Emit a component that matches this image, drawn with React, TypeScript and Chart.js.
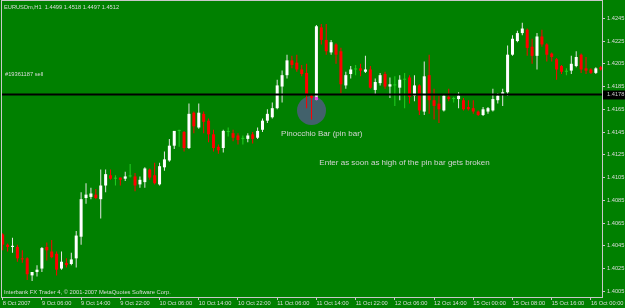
import React, { useEffect, useRef } from "react";
import { Chart, registerables } from "chart.js";

Chart.register(...registerables);

// EURUSDm H1 candles, one per hour, starting 8 Oct 2007 (bar index = position)
const OPEN = [
  1.4055, 1.4046, 1.4044, 1.4044, 1.4034, 1.4034, 1.4019, 1.4022, 1.4025, 1.4044,
  1.4040, 1.4038, 1.4025, 1.4030, 1.4029, 1.4034, 1.4053, 1.4087, 1.4088, 1.4090,
  1.4086, 1.4098, 1.4107, 1.4104, 1.4105, 1.4104, 1.4106, 1.4106, 1.4099, 1.4101,
  1.4112, 1.4107, 1.4099, 1.4114, 1.4120, 1.4133, 1.4146, 1.4145, 1.4131, 1.4162,
  1.4149, 1.4161, 1.4155, 1.4143, 1.4132, 1.4131, 1.4145, 1.4144, 1.4142, 1.4139,
  1.4139, 1.4143, 1.4140, 1.4147, 1.4155, 1.4158, 1.4166, 1.4185, 1.4195, 1.4208,
  1.4206, 1.4200, 1.4197, 1.4177, 1.4176, 1.4237, 1.4226, 1.4215, 1.4222, 1.4216,
  1.4186, 1.4196, 1.4200, 1.4201, 1.4198, 1.4200, 1.4182, 1.4188, 1.4196, 1.4185,
  1.4186, 1.4184, 1.4191, 1.4193, 1.4177, 1.4186, 1.4163, 1.4195, 1.4173, 1.4170,
  1.4164, 1.4176, 1.4174, 1.4174, 1.4173, 1.4167, 1.4166, 1.4163, 1.4160, 1.4163,
  1.4164, 1.4173, 1.4178, 1.4180, 1.4213, 1.4225, 1.4232, 1.4235, 1.4220, 1.4212,
  1.4229, 1.4222, 1.4214, 1.4209, 1.4203, 1.4198, 1.4199, 1.4203, 1.4213, 1.4201,
  1.4200, 1.4197, 1.4202,
];
const HIGH = [
  1.4056, 1.4047, 1.4052, 1.4046, 1.4041, 1.4035, 1.4022, 1.4028, 1.4044, 1.4048,
  1.4050, 1.4040, 1.4040, 1.4034, 1.4039, 1.4058, 1.4092, 1.4100, 1.4096, 1.4095,
  1.4112, 1.4112, 1.4112, 1.4107, 1.4105, 1.4110, 1.4117, 1.4109, 1.4106, 1.4114,
  1.4113, 1.4118, 1.4118, 1.4128, 1.4139, 1.4146, 1.4147, 1.4146, 1.4170, 1.4163,
  1.4170, 1.4163, 1.4157, 1.4147, 1.4134, 1.4147, 1.4149, 1.4147, 1.4144, 1.4142,
  1.4144, 1.4145, 1.4149, 1.4157, 1.4165, 1.4171, 1.4191, 1.4199, 1.4213, 1.4212,
  1.4213, 1.4204, 1.4205, 1.4178, 1.4239, 1.4240, 1.4240, 1.4226, 1.4223, 1.4219,
  1.4198, 1.4203, 1.4204, 1.4205, 1.4212, 1.4203, 1.4192, 1.4197, 1.4198, 1.4193,
  1.4194, 1.4195, 1.4197, 1.4195, 1.4195, 1.4187, 1.4207, 1.4213, 1.4183, 1.4177,
  1.4178, 1.4183, 1.4176, 1.4180, 1.4175, 1.4173, 1.4173, 1.4164, 1.4167, 1.4167,
  1.4183, 1.4179, 1.4183, 1.4221, 1.4230, 1.4234, 1.4241, 1.4236, 1.4227, 1.4232,
  1.4235, 1.4223, 1.4215, 1.4210, 1.4204, 1.4201, 1.4212, 1.4216, 1.4214, 1.4211,
  1.4201, 1.4202, 1.4203,
];
const LOW = [
  1.4041, 1.4040, 1.4039, 1.4031, 1.4030, 1.4015, 1.4014, 1.4018, 1.4022, 1.4032,
  1.4034, 1.4019, 1.4024, 1.4026, 1.4028, 1.4026, 1.4046, 1.4082, 1.4086, 1.4086,
  1.4069, 1.4092, 1.4103, 1.4098, 1.4098, 1.4102, 1.4105, 1.4093, 1.4096, 1.4096,
  1.4103, 1.4099, 1.4098, 1.4111, 1.4119, 1.4130, 1.4132, 1.4128, 1.4130, 1.4144,
  1.4148, 1.4144, 1.4136, 1.4128, 1.4126, 1.4127, 1.4141, 1.4137, 1.4134, 1.4134,
  1.4136, 1.4135, 1.4139, 1.4145, 1.4153, 1.4157, 1.4165, 1.4171, 1.4192, 1.4201,
  1.4198, 1.4194, 1.4166, 1.4156, 1.4173, 1.4222, 1.4213, 1.4213, 1.4205, 1.4179,
  1.4183, 1.4192, 1.4195, 1.4194, 1.4197, 1.4183, 1.4178, 1.4186, 1.4183, 1.4175,
  1.4168, 1.4173, 1.4166, 1.4170, 1.4172, 1.4160, 1.4160, 1.4161, 1.4156, 1.4153,
  1.4163, 1.4172, 1.4171, 1.4166, 1.4164, 1.4164, 1.4161, 1.4159, 1.4159, 1.4161,
  1.4163, 1.4170, 1.4168, 1.4177, 1.4212, 1.4224, 1.4230, 1.4212, 1.4205, 1.4200,
  1.4220, 1.4207, 1.4207, 1.4191, 1.4196, 1.4195, 1.4196, 1.4202, 1.4197, 1.4196,
  1.4196, 1.4196, 1.4199,
];
const CLOSE = [
  1.4046, 1.4044, 1.4045, 1.4034, 1.4033, 1.4020, 1.4022, 1.4024, 1.4043, 1.4041,
  1.4035, 1.4024, 1.4031, 1.4028, 1.4033, 1.4054, 1.4086, 1.4090, 1.4091, 1.4087,
  1.4098, 1.4108, 1.4104, 1.4104, 1.4103, 1.4106, 1.4106, 1.4098, 1.4103, 1.4113,
  1.4105, 1.4100, 1.4115, 1.4121, 1.4133, 1.4146, 1.4146, 1.4131, 1.4161, 1.4150,
  1.4162, 1.4154, 1.4143, 1.4131, 1.4129, 1.4146, 1.4145, 1.4140, 1.4138, 1.4139,
  1.4142, 1.4139, 1.4146, 1.4155, 1.4161, 1.4166, 1.4186, 1.4195, 1.4208, 1.4204,
  1.4200, 1.4196, 1.4178, 1.4175, 1.4238, 1.4226, 1.4216, 1.4224, 1.4213, 1.4187,
  1.4195, 1.4200, 1.4200, 1.4199, 1.4200, 1.4184, 1.4189, 1.4195, 1.4185, 1.4187,
  1.4186, 1.4191, 1.4191, 1.4176, 1.4186, 1.4164, 1.4194, 1.4173, 1.4168, 1.4165,
  1.4177, 1.4174, 1.4174, 1.4177, 1.4165, 1.4165, 1.4163, 1.4160, 1.4165, 1.4166,
  1.4174, 1.4177, 1.4180, 1.4213, 1.4227, 1.4232, 1.4236, 1.4219, 1.4212, 1.4229,
  1.4222, 1.4213, 1.4211, 1.4200, 1.4198, 1.4198, 1.4205, 1.4211, 1.4200, 1.4199,
  1.4197, 1.4201, 1.4200,
];

// time labels shown every 8 bars
const TIME_LABELS = [
  "8 Oct 2007", "9 Oct 06:00", "9 Oct 14:00", "9 Oct 22:00", "10 Oct 06:00",
  "10 Oct 14:00", "10 Oct 22:00", "11 Oct 06:00", "11 Oct 14:00", "11 Oct 22:00",
  "12 Oct 06:00", "12 Oct 14:00", "15 Oct 00:00", "15 Oct 08:00", "15 Oct 16:00",
  "16 Oct 00:00",
];
const BARS_PER_LABEL = 8;
const PRICE_TICKS = [
  1.4005, 1.4025, 1.4045, 1.4065, 1.4085, 1.4105, 1.4125, 1.4145, 1.4165,
  1.4185, 1.4205, 1.4225, 1.4245,
];
const ENTRY_LEVEL = 1.4178;
const PIN_BAR = 63;
const PIN_CIRCLE_PRICE = 1.4164;
const ORDER_MARK_BAR = 64;
const ORDER_MARK_PRICE = 1.41745;
const ORDER_PRICE = 1.4196;

const HEADER_TEXT = "EURUSDm,H1  1.4499 1.4518 1.4497 1.4512";
const ORDER_TEXT = "#19361187 sell";
const COPYRIGHT_TEXT = "Interbank FX Trader 4, \u00a9 2001-2007 MetaQuotes Software Corp.";
const NOTE_PIN = "Pinocchio Bar (pin bar)";
const NOTE_PIN_AT = { bar: 56.8, price: 1.41439 };
const NOTE_ENTRY = "Enter as soon as high of the pin bar gets broken";
const NOTE_ENTRY_AT = { bar: 64.6, price: 1.41181 };

const BG = "#008000";
const FRAME = "#c8c8c8";
const TEXT = "#dcdcdc";
const BULL = "#ffffff";
const BEAR = "#ff0000";
const DOJI = "#22d022";
const BULL_WICK = "#e4e4e4";
const FONT = "'Liberation Sans', Arial, sans-serif";

function candleColor(i: number, bull: string, bear: string, doji: string) {
  const o = OPEN[i];
  const c = CLOSE[i];
  return c > o ? bull : c < o ? bear : doji;
}

export default function App() {
  const ref = useRef<HTMLCanvasElement | null>(null);

  useEffect(() => {
    if (!ref.current) return;
    const idx = OPEN.map((_, i) => i);

    const decor = {
      id: "mt4decor",
      beforeDraw(chart: any) {
        const { ctx, width, height } = chart;
        ctx.save();
        ctx.fillStyle = BG;
        ctx.fillRect(0, 0, width, height);
        ctx.restore();
      },
      afterDraw(chart: any) {
        const { ctx, chartArea: a, scales } = chart;
        const xs = scales.x;
        const ys = scales.y;
        ctx.save();
        // frame
        ctx.strokeStyle = FRAME;
        ctx.lineWidth = 1;
        ctx.strokeRect(a.left - 0.5, a.top - 0.5, a.right - a.left + 1, a.bottom - a.top + 1);
        // small texts
        ctx.fillStyle = TEXT;
        ctx.textBaseline = "middle";
        ctx.textAlign = "left";
        ctx.font = `5.7px ${FONT}`;
        ctx.fillText(HEADER_TEXT, a.left + 2, a.top + 6);
        ctx.fillText(ORDER_TEXT, a.left + 3, ys.getPixelForValue(ORDER_PRICE));
        ctx.font = `5.8px ${FONT}`;
        ctx.fillText(COPYRIGHT_TEXT, a.left + 2, a.bottom - 4.5);
        // notes
        ctx.font = `8px ${FONT}`;
        ctx.fillStyle = "#d4d4d4";
        ctx.fillText(NOTE_PIN, xs.getPixelForValue(NOTE_PIN_AT.bar), ys.getPixelForValue(NOTE_PIN_AT.price));
        ctx.fillText(NOTE_ENTRY, xs.getPixelForValue(NOTE_ENTRY_AT.bar), ys.getPixelForValue(NOTE_ENTRY_AT.price));
        // price box on the axis
        const py = ys.getPixelForValue(ENTRY_LEVEL);
        ctx.fillStyle = "#000000";
        ctx.fillRect(a.right + 1, Math.round(py) - 4.5, 24, 9);
        ctx.fillStyle = "#c8c8c8";
        ctx.font = `5.7px ${FONT}`;
        ctx.fillText(ENTRY_LEVEL.toFixed(4), a.right + 5, py);
        ctx.restore();
      },
    };

    const chart = new Chart(ref.current, {
      type: "bar",
      data: {
        datasets: [
          {
            type: "scatter",
            data: [{ x: PIN_BAR, y: PIN_CIRCLE_PRICE }],
            pointRadius: 14.5,
            pointHoverRadius: 14.5,
            backgroundColor: "#42616b",
            borderWidth: 0,
            clip: 0,
            order: 6,
          } as any,
          {
            type: "bar",
            data: idx.map((i) => ({ x: i, y: [LOW[i], HIGH[i]] })),
            backgroundColor: idx.map((i) => candleColor(i, BULL_WICK, BEAR, DOJI)),
            borderWidth: 0,
            grouped: false,
            maxBarThickness: 1,
            inflateAmount: 0,
            clip: 0,
            order: 4,
          } as any,
          {
            type: "bar",
            data: idx.map((i) => ({ x: i, y: [OPEN[i], CLOSE[i]] })),
            backgroundColor: idx.map((i) => candleColor(i, BULL, BEAR, DOJI)),
            borderWidth: 0,
            grouped: false,
            maxBarThickness: 3,
            minBarLength: 1,
            inflateAmount: 0,
            clip: 0,
            order: 3,
          } as any,
          {
            type: "line",
            data: [
              { x: -1, y: ENTRY_LEVEL },
              { x: OPEN.length + 1, y: ENTRY_LEVEL },
            ],
            borderColor: "#000000",
            borderWidth: 2,
            pointRadius: 0,
            clip: 0,
            order: 1,
          } as any,
          {
            type: "scatter",
            data: [{ x: ORDER_MARK_BAR, y: ORDER_MARK_PRICE }],
            pointStyle: "rect",
            pointRadius: 2.2,
            backgroundColor: "#f040f0",
            borderWidth: 0,
            clip: 0,
            order: 0,
          } as any,
        ],
      },
      options: {
        responsive: false,
        maintainAspectRatio: false,
        animation: false,
        events: [],
        layout: { autoPadding: false, padding: { left: 2, top: 1, right: 0, bottom: 0 } },
        plugins: { legend: { display: false }, tooltip: { enabled: false } },
        scales: {
          x: {
            type: "linear",
            position: "bottom",
            min: -0.14,
            max: 122.26,
            offset: false,
            border: { display: false },
            grid: {
              display: true,
              offset: false,
              drawOnChartArea: false,
              drawTicks: true,
              tickLength: 3,
              color: FRAME,
            },
            ticks: {
              autoSkip: false,
              maxRotation: 0,
              minRotation: 0,
              align: "start",
              padding: 0,
              color: TEXT,
              font: { family: FONT, size: 5.7 },
              callback: (v: any) => TIME_LABELS[Math.round(Number(v) / BARS_PER_LABEL)] ?? "",
            },
            afterBuildTicks: (s: any) => {
              s.ticks = TIME_LABELS.map((_, k) => ({ value: k * BARS_PER_LABEL }));
            },
            afterFit: (s: any) => {
              s.height = 11;
              s.paddingLeft = 0;
              s.paddingRight = 0;
            },
          },
          y: {
            type: "linear",
            position: "right",
            min: 1.4,
            max: 1.42602,
            beginAtZero: false,
            border: { display: false },
            grid: {
              display: true,
              drawOnChartArea: false,
              drawTicks: true,
              tickLength: 3,
              color: FRAME,
            },
            ticks: {
              padding: 2,
              color: TEXT,
              font: { family: FONT, size: 5.7 },
              callback: (v: any) => Number(v).toFixed(4),
            },
            afterBuildTicks: (s: any) => {
              s.ticks = PRICE_TICKS.map((p) => ({ value: p }));
            },
            afterFit: (s: any) => {
              s.width = 23;
              s.paddingTop = 0;
              s.paddingBottom = 0;
            },
          },
        },
      } as any,
      plugins: [decor],
    });

    return () => chart.destroy();
  }, []);

  return (
    <div style={{ position: "fixed", left: 0, top: 0, width: 625, height: 308, background: BG }}>
      <canvas ref={ref} width={625} height={308} style={{ display: "block" }} />
    </div>
  );
}
